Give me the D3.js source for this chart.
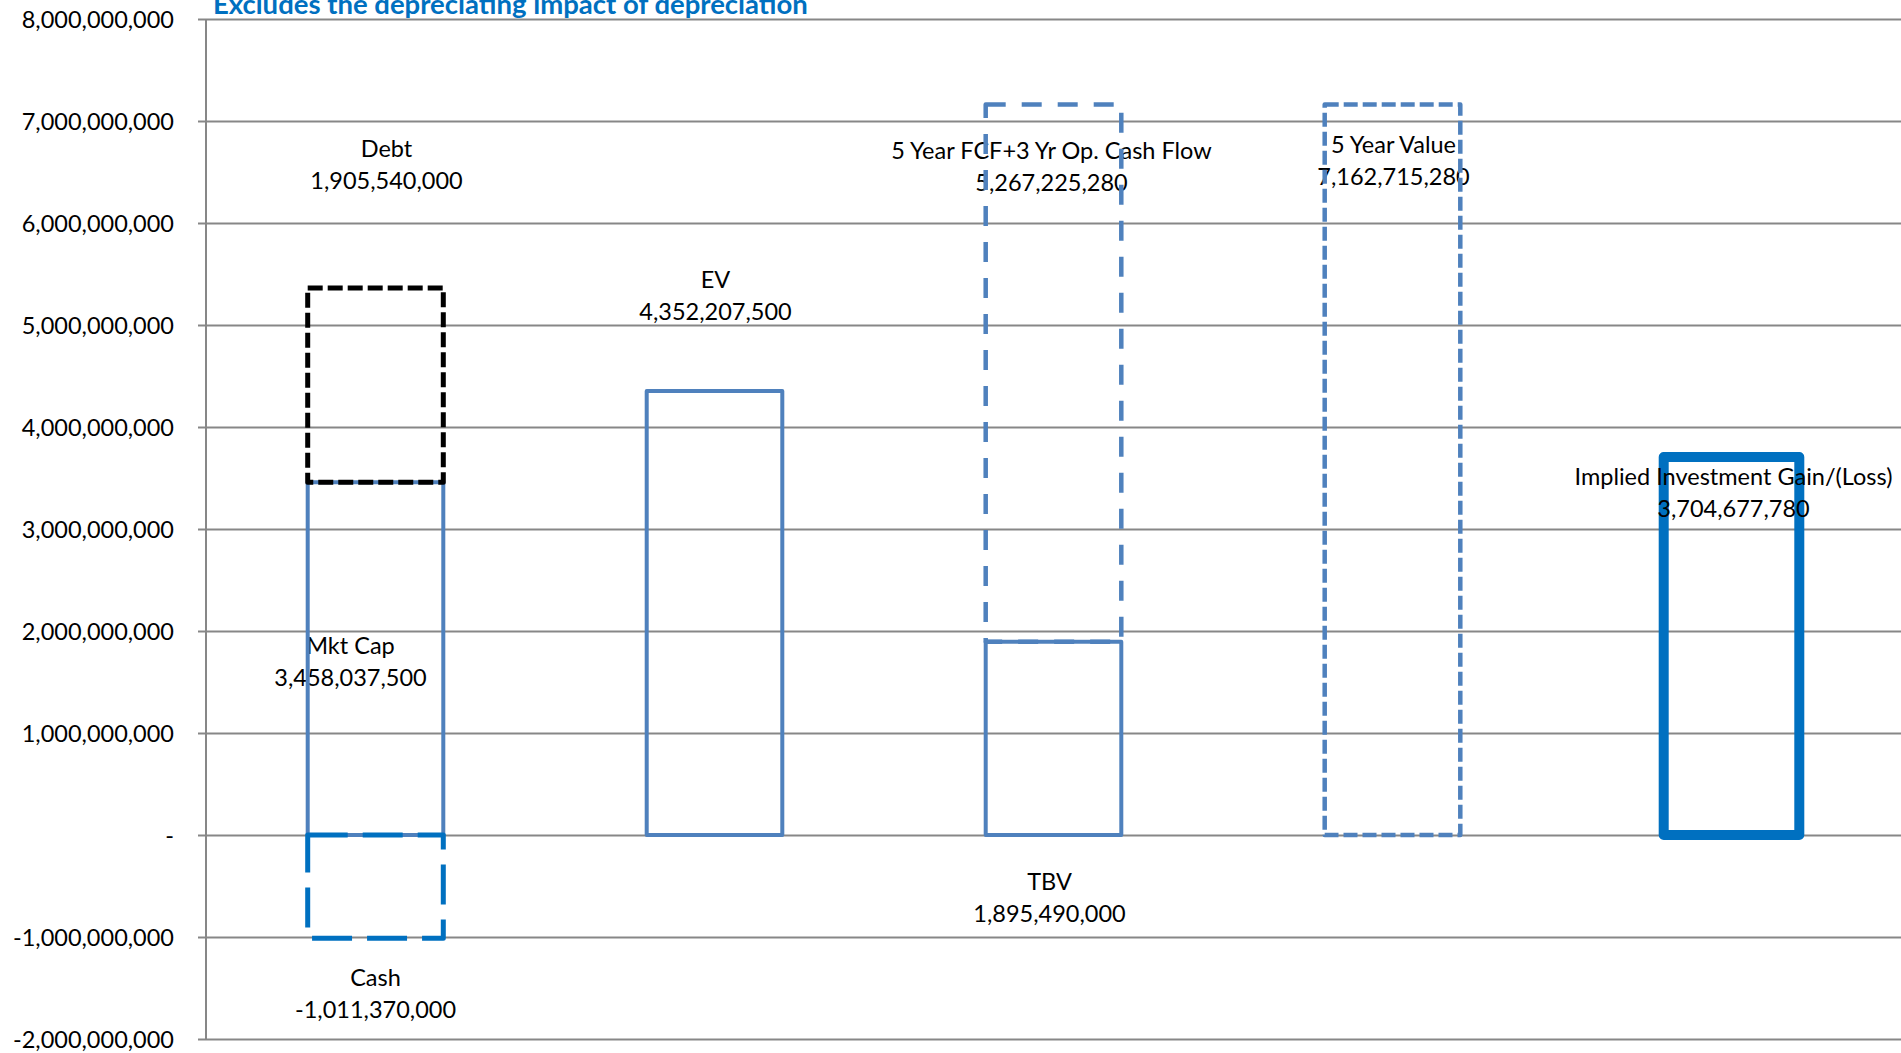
<!DOCTYPE html>
<html>
<head>
<meta charset="utf-8">
<script src="https://cdn.jsdelivr.net/npm/d3@7"></script>
<style>
  html, body { margin: 0; padding: 0; background: #fff; }
  svg { display: block; }
  text { font-family: Lato, "Open Sans", sans-serif; }
</style>
</head>
<body>
<svg id="chart" width="1901" height="1053"></svg>
<script>
// ---- data ----
const categories = ["Capital Structure", "Enterprise Value", "TBV + Cash Flow", "5 Year Value", "Gain"];
const segmentNames = ["Mkt Cap", "Debt", "Cash", "EV", "TBV", "5 Year FCF+3 Yr Op. Cash Flow", "5 Year Value", "Implied Investment Gain/(Loss)"];
const segmentValues = [3458037500, 1905540000, -1011370000, 4352207500, 1895490000, 5267225280, 7162715280, 3704677780];
const segmentCategory = [0, 0, 0, 1, 2, 2, 3, 4];
const tickValues = [-2e9, -1e9, 0, 1e9, 2e9, 3e9, 4e9, 5e9, 6e9, 7e9, 8e9];
const titleText = "Excludes the depreciating impact of depreciation";

// ---- styling per segment ----
const segmentStyles = [
  { stroke: "#4F81BD", width: 4,   dash: null },
  { stroke: "#000000", width: 5,   dash: "15,5" },
  { stroke: "#0070C0", width: 5,   dash: "40,15" },
  { stroke: "#4F81BD", width: 4,   dash: null },
  { stroke: "#4F81BD", width: 4,   dash: null },
  { stroke: "#4F81BD", width: 4.5, dash: "20,16" },
  { stroke: "#4F81BD", width: 4.5, dash: "14,5" },
  { stroke: "#0070C0", width: 10,  dash: null }
];
// label placement: pixel nudge from the segment centre (dy to the middle of the two lines)
const labelNudges = [
  { dx: -25, dy: 11, top: false },
  { dx: 11, dy: -212, top: false },
  { dx: 0, dy: 115, top: false },
  { dx: 1, dy: -309, top: false },
  { dx: -4, dy: 168, top: false },
  { dx: -2, dy: -198, top: false },
  { dx: 1, dy: -301, top: false },
  { dx: 2, dy: -145, top: true }
];

// ---- layout ----
const svg = d3.select("#chart");
const plot = { left: 206, right: 1901, top: 19, bottom: 1039 };
const gridColor = "#878787";
const fontSize = 23.5;

const x = d3.scaleBand()
  .domain(categories)
  .range([plot.left, plot.right])
  .paddingInner(0.6)
  .paddingOuter(0.3);

const y = d3.scaleLinear()
  .domain([-2e9, 8e9])
  .range([plot.bottom, plot.top]);

const locale = d3.formatLocale({ decimal: ".", thousands: ",", grouping: [3], currency: ["$", ""], minus: "-" });
const fmt = locale.format(",");
const tickFmt = v => v === 0 ? "-" : fmt(v);

// ---- gridlines + axis ----
const yAxis = d3.axisLeft(y)
  .tickValues(tickValues)
  .tickFormat(tickFmt)
  .tickSizeInner(-(plot.right - plot.left))
  .tickSizeOuter(0)
  .tickPadding(0);

const axisG = svg.append("g")
  .attr("transform", `translate(${plot.left},0)`)
  .call(yAxis);
axisG.select(".domain").remove();
axisG.selectAll(".tick line")
  .attr("x1", -8)
  .attr("stroke", gridColor)
  .attr("stroke-width", 2);
axisG.selectAll(".tick text")
  .attr("x", -32)
  .attr("dy", "0.35em")
  .attr("fill", "#000")
  .style("font-size", fontSize + "px")
  .style("font-family", "Lato, sans-serif");

svg.append("line")
  .attr("x1", plot.left).attr("x2", plot.left)
  .attr("y1", y(8e9)).attr("y2", y(-2e9))
  .attr("stroke", gridColor)
  .attr("stroke-width", 2);

// ---- stack segments ----
const posBase = categories.map(() => 0);
const negBase = categories.map(() => 0);
const segments = segmentValues.map((v, i) => {
  const c = segmentCategory[i];
  let y0, y1;
  if (v >= 0) { y0 = posBase[c]; y1 = y0 + v; posBase[c] = y1; }
  else { y0 = negBase[c]; y1 = y0 + v; negBase[c] = y1; }
  return { name: segmentNames[i], value: v, cat: categories[c], y0, y1, style: segmentStyles[i], nudge: labelNudges[i] };
});

const labelsUnder = svg.append("g");
const barsG = svg.append("g");
const labelsOver = svg.append("g");

barsG.selectAll("rect")
  .data(segments)
  .join("rect")
  .attr("x", d => x(d.cat))
  .attr("width", x.bandwidth())
  .attr("y", d => y(Math.max(d.y0, d.y1)))
  .attr("height", d => Math.abs(y(d.y0) - y(d.y1)))
  .attr("fill", "none")
  .attr("stroke", d => d.style.stroke)
  .attr("stroke-width", d => d.style.width)
  .attr("stroke-dasharray", d => d.style.dash)
  .attr("stroke-linejoin", "round");

function drawLabels(g, data) {
  const t = g.selectAll("text")
    .data(data)
    .join("text")
    .attr("text-anchor", "middle")
    .attr("fill", "#000")
    .style("font-size", fontSize + "px")
    .attr("transform", d => {
      const cx = x(d.cat) + x.bandwidth() / 2 + d.nudge.dx;
      const cy = y((d.y0 + d.y1) / 2) + d.nudge.dy;
      return `translate(${cx},${cy})`;
    });
  t.append("tspan").attr("x", 0).attr("y", -16).text(d => d.name);
  t.append("tspan").attr("x", 0).attr("y", 16).text(d => fmt(d.value));
}
drawLabels(labelsUnder, segments.filter(d => !d.nudge.top));
drawLabels(labelsOver, segments.filter(d => d.nudge.top));

// ---- title (sits partly above the top edge of the page) ----
svg.append("text")
  .attr("x", 213)
  .attr("y", 14)
  .attr("fill", "#0070C0")
  .style("font-size", "27.5px")
  .style("font-weight", "bold")
  .text(titleText);
</script>
</body>
</html>
